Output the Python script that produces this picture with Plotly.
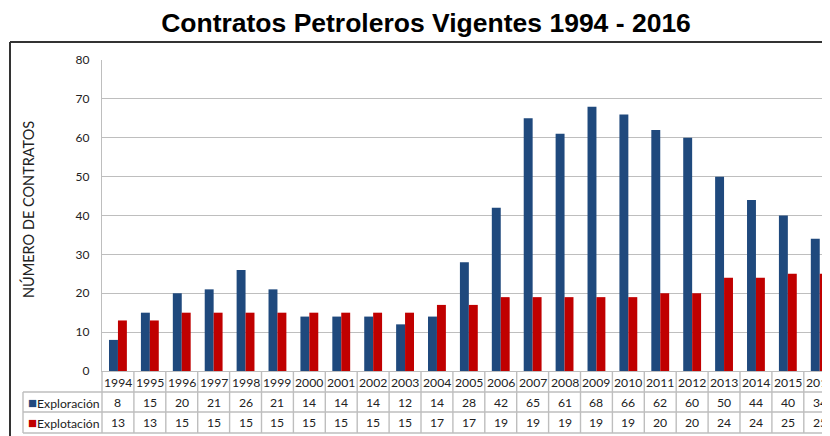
import plotly.graph_objects as go

years = [str(y) for y in range(1994, 2017)]
exploracion = [8, 15, 20, 21, 26, 21, 14, 14, 14, 12, 14, 28, 42, 65, 61, 68, 66, 62, 60, 50, 44, 40, 34]
explotacion = [13, 13, 15, 15, 15, 15, 15, 15, 15, 15, 17, 17, 19, 19, 19, 19, 19, 20, 20, 24, 24, 25, 25]
series_names = ["Exploración", "Explotación"]
colors = ["#1F497D", "#C00000"]

OFF = 8  # page body offset
W, H = 830 - OFF, 436 - OFF
L = 102 - OFF
T = 60 - OFF
B = H - (371 - OFF)
PW, PH = W - L, H - T - B
CAT = 31.9
XMAX = -0.5 + PW / CAT

def px2x(px):
    return (px - OFF - L) / PW

def py2y(py):
    return (H - B - (py - OFF)) / PH

fig = go.Figure()
for name, vals, c in zip(series_names, [exploracion, explotacion], colors):
    fig.add_trace(go.Bar(x=list(range(len(years))), y=vals, name=name, marker_color=c,
                         marker_line_width=0, showlegend=False))

grid = "#BEBEBE"
shapes = []
ann = []
for ypx in [392, 412, 433]:
    shapes.append(dict(type="line", xref="paper", yref="paper", x0=px2x(23), x1=1.02,
                       y0=py2y(ypx), y1=py2y(ypx), line=dict(color=grid, width=1.4)))
shapes.append(dict(type="line", xref="paper", yref="paper", x0=px2x(23), x1=px2x(23),
                   y0=py2y(392), y1=py2y(433), line=dict(color=grid, width=1.4)))
shapes.append(dict(type="line", xref="paper", yref="paper", x0=0, x1=0,
                   y0=py2y(371), y1=py2y(433), line=dict(color=grid, width=1.4)))
for i in range(len(years)):
    xb = i + 0.5
    if xb < XMAX:
        shapes.append(dict(type="line", xref="x", yref="paper", x0=xb, x1=xb,
                           y0=py2y(371), y1=py2y(433), line=dict(color=grid, width=1.4)))
# outer border
shapes.append(dict(type="line", xref="paper", yref="paper", x0=px2x(10), x1=px2x(10),
                   y0=py2y(42), y1=py2y(445), line=dict(color="#333333", width=2)))
shapes.append(dict(type="line", xref="paper", yref="paper", x0=px2x(10), x1=px2x(840),
                   y0=py2y(42), y1=py2y(42), line=dict(color="#333333", width=2)))

tf = dict(family="Lato, Carlito, sans-serif", size=12.2, color="#222222")
for i, yr in enumerate(years):
    for val, ypx in [(yr, 382), (str(exploracion[i]), 402), (str(explotacion[i]), 422)]:
        ann.append(dict(x=i, y=py2y(ypx), xref="x", yref="paper", text=val, showarrow=False,
                        xanchor="center", yanchor="middle", font=tf))
for name, c, ypx in zip(series_names, colors, [402, 422]):
    ann.append(dict(x=px2x(25.5), y=py2y(ypx), xref="paper", yref="paper", xanchor="left", yanchor="middle",
                    text=f'<span style="color:{c};font-size:15px">■</span>{name}', showarrow=False, font=tf))
ann.append(dict(x=px2x(28), y=py2y(210), xref="paper", yref="paper", text="NÚMERO DE CONTRATOS",
                textangle=-90, showarrow=False, xanchor="center", yanchor="middle",
                font=dict(family="Lato, Carlito, sans-serif", size=14.5, color="#222222")))

fig.update_layout(
    width=W, height=H,
    margin=dict(l=L, r=0, t=T, b=B),
    paper_bgcolor="white", plot_bgcolor="white",
    barmode="group", bargap=0.44, bargroupgap=0,
    title=dict(text="Contratos Petroleros Vigentes 1994 - 2016", x=(426 - OFF) / W, xanchor="center",
               y=1 - (22.5 - OFF) / H, yanchor="middle",
               font=dict(family="Liberation Sans, Arial, sans-serif", size=26.5, color="black", weight="bold")),
    xaxis=dict(range=[-0.5, XMAX], showticklabels=False, showgrid=False, zeroline=False,
               showline=True, linecolor=grid, linewidth=1.4, ticks=""),
    yaxis=dict(range=[0, 80], dtick=10, showgrid=True, gridcolor=grid, gridwidth=1.4,
               zeroline=False, showline=True, linecolor=grid, linewidth=1.4,
               ticks="", ticklabelstandoff=9,
               tickfont=dict(family="Lato, Carlito, sans-serif", size=12, color="#222222")),
    shapes=shapes, annotations=ann,
)
fig.write_html("out.html")
